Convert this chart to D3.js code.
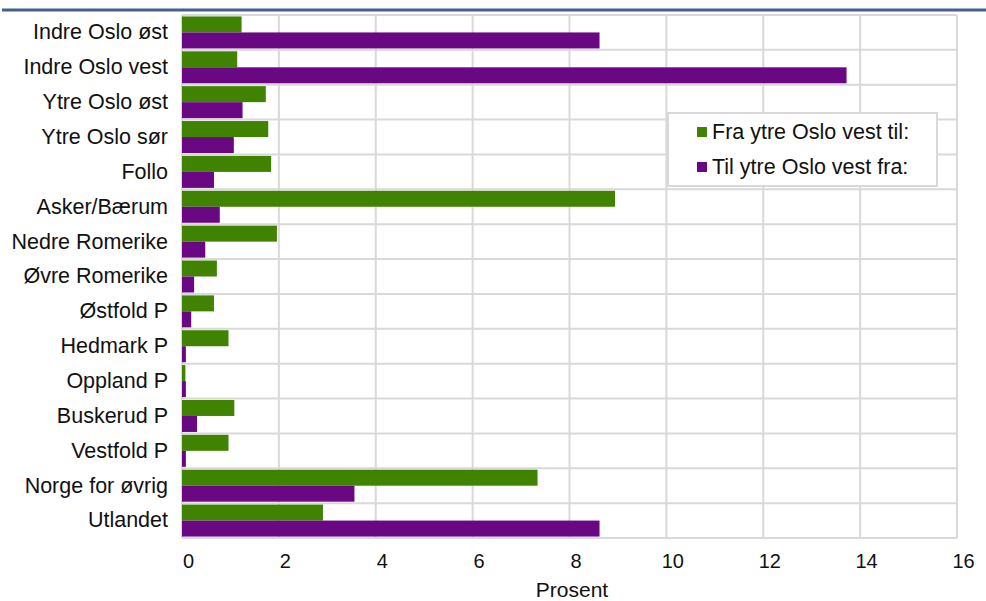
<!DOCTYPE html>
<html>
<head>
<meta charset="utf-8">
<script src="https://cdn.jsdelivr.net/npm/d3@7"></script>
<style>
  html, body { margin: 0; padding: 0; background: #ffffff; }
  svg { display: block; }
</style>
</head>
<body>
<svg id="chart" width="986" height="601"></svg>
<script>
const categories = ["Indre Oslo øst", "Indre Oslo vest", "Ytre Oslo øst", "Ytre Oslo sør", "Follo",
  "Asker/Bærum", "Nedre Romerike", "Øvre Romerike", "Østfold P", "Hedmark P",
  "Oppland P", "Buskerud P", "Vestfold P", "Norge for øvrig", "Utlandet"];
const seriesNames = ["Fra ytre Oslo vest til:", "Til ytre Oslo vest fra:"];
const fraValues = [1.23, 1.14, 1.73, 1.78, 1.84, 8.94, 1.96, 0.72, 0.66, 0.96, 0.07, 1.08, 0.96, 7.34, 2.91];
const tilValues = [8.62, 13.72, 1.25, 1.07, 0.66, 0.78, 0.48, 0.25, 0.19, 0.08, 0.08, 0.31, 0.08, 3.56, 8.62];
const xTicks = [0, 2, 4, 6, 8, 10, 12, 14, 16];
const axisTitle = "Prosent";

const colors = ["#3f8300", "#6a0884"];
const svg = d3.select("#chart");
const font = "'Liberation Sans', Arial, sans-serif";
const textColor = "#111111";

const plotL = 182, plotR = 957, plotT = 15, plotB = 538;
const x = d3.scaleLinear().domain([0, 16]).range([plotL, plotR]);
const y = d3.scaleBand().domain(categories).range([plotT, plotB]).paddingInner(0).paddingOuter(0);
const inner = d3.scaleBand().domain(seriesNames).range([0, y.bandwidth()]).paddingInner(0).paddingOuter(0.09);

// top blue rule
svg.append("line").attr("x1", 2).attr("x2", 986).attr("y1", 10).attr("y2", 10)
  .attr("stroke", "#44618e").attr("stroke-width", 3);

// grid
const grid = svg.append("g");
grid.selectAll("line.v").data(xTicks).join("line")
  .attr("x1", d => x(d)).attr("x2", d => x(d)).attr("y1", plotT).attr("y2", plotB)
  .attr("stroke", "#d9d9d9").attr("stroke-width", 2);
const hLines = categories.map(c => y(c)).concat([plotB]);
grid.selectAll("line.h").data(hLines).join("line")
  .attr("x1", plotL).attr("x2", plotR).attr("y1", d => d).attr("y2", d => d)
  .attr("stroke", "#d9d9d9").attr("stroke-width", 2);

// bars
const rows = categories.map((c, i) => ({ c, vals: [fraValues[i], tilValues[i]] }));
const groups = svg.append("g").selectAll("g").data(rows).join("g")
  .attr("transform", d => `translate(0,${y(d.c)})`);
groups.selectAll("rect").data(d => d.vals.map((v, j) => ({ v, s: seriesNames[j], j }))).join("rect")
  .attr("x", x(0))
  .attr("y", d => inner(d.s))
  .attr("width", d => x(d.v) - x(0))
  .attr("height", inner.bandwidth())
  .attr("fill", d => colors[d.j]);

// category labels
const yAxis = d3.axisLeft(y).tickSize(0).tickPadding(14);
const yg = svg.append("g").attr("transform", `translate(${plotL},0)`).call(yAxis);
yg.select(".domain").remove();
yg.attr("font-size", null).attr("font-family", null);
yg.selectAll("text").attr("font-family", font).attr("font-size", 21.5).attr("fill", textColor);

// x axis labels
const xAxis = d3.axisBottom(x).tickValues(xTicks).tickSize(0).tickPadding(16).tickFormat(d3.format("d"));
const xg = svg.append("g").attr("transform", `translate(6,${plotB})`).call(xAxis);
xg.select(".domain").remove();
xg.attr("font-size", null).attr("font-family", null);
xg.selectAll("text").attr("font-family", font).attr("font-size", 20).attr("fill", textColor);

svg.append("text").attr("x", 572).attr("y", 597)
  .attr("text-anchor", "middle").attr("font-family", font).attr("font-size", 21)
  .attr("fill", textColor).text(axisTitle);

// legend
const lg = svg.append("g");
lg.append("rect").attr("x", 668).attr("y", 113).attr("width", 269).attr("height", 73)
  .attr("fill", "#ffffff").attr("stroke", "#d9d9d9").attr("stroke-width", 2);
seriesNames.forEach((n, i) => {
  const cy = 132 + i * 35;
  lg.append("rect").attr("x", 697).attr("y", cy - 5).attr("width", 10).attr("height", 10).attr("fill", colors[i]);
  lg.append("text").attr("x", 712).attr("y", cy + 7).attr("font-family", font).attr("font-size", 21.5)
    .attr("fill", textColor).text(n);
});
</script>
</body>
</html>
